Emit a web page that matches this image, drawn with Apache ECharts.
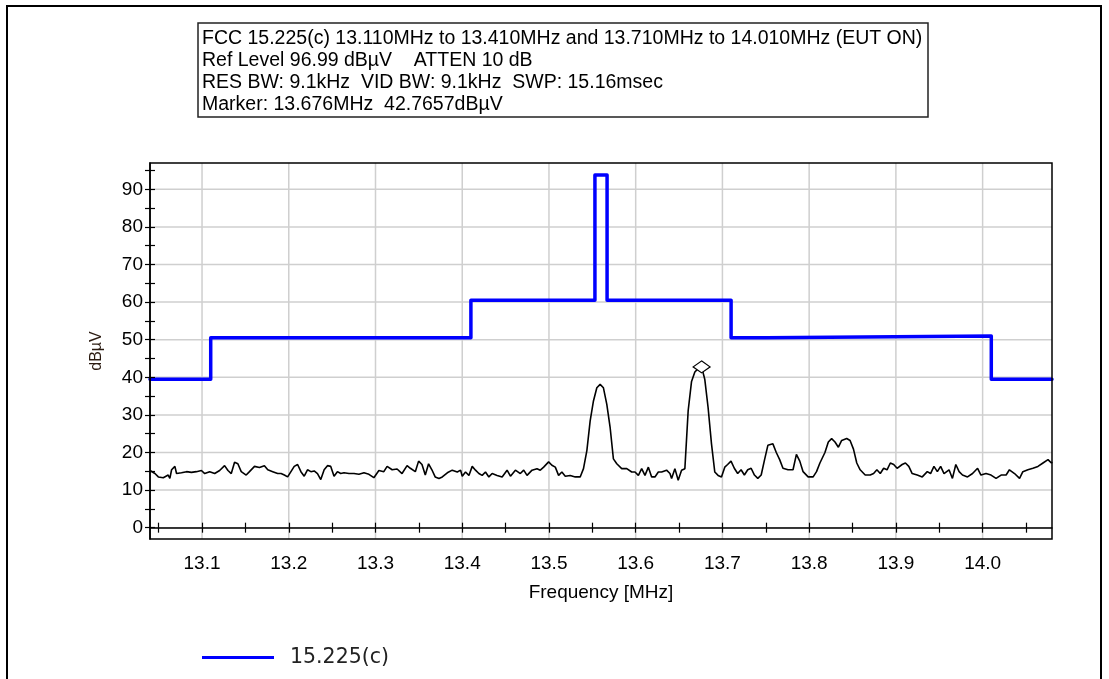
<!DOCTYPE html>
<html>
<head>
<meta charset="utf-8">
<script src="https://cdn.jsdelivr.net/npm/echarts@6/dist/echarts.min.js"></script>
<style>
  html, body { margin: 0; padding: 0; background: #fff; }
  #chart { width: 1109px; height: 679px; }
</style>
</head>
<body>
<div id="chart"></div>
<script>
// Analyzer settings block
const headerLines = [
  'FCC 15.225(c) 13.110MHz to 13.410MHz and 13.710MHz to 14.010MHz (EUT ON)',
  'Ref Level 96.99 dBµV    ATTEN 10 dB',
  'RES BW: 9.1kHz  VID BW: 9.1kHz  SWP: 15.16msec',
  'Marker: 13.676MHz  42.7657dBµV'
];

// Limit mask (step line)
const limitName = '15.225(c)';
const limitFreq  = [13.04, 13.11, 13.11, 13.41, 13.41, 13.553, 13.553, 13.567, 13.567, 13.71, 13.71, 13.75, 13.75, 14.01, 14.01, 14.08];
const limitLevel = [39.5, 39.5, 50.5, 50.5, 60.5, 60.5, 93.8, 93.8, 60.5, 60.5, 50.5, 50.5, 51.0, 51.0, 39.5, 39.5];

// Measured sweep (MHz, dBµV)
const traceFreq = [
  13.0400, 13.0457, 13.0496, 13.0553, 13.0610, 13.0629, 13.0649, 13.0687, 13.0706, 13.0763,
  13.0821, 13.0878, 13.0935, 13.0993, 13.1031, 13.1088, 13.1146, 13.1203, 13.1260, 13.1299,
  13.1337, 13.1375, 13.1413, 13.1452, 13.1509, 13.1547, 13.1605, 13.1662, 13.1719, 13.1758,
  13.1815, 13.1872, 13.1911, 13.1949, 13.1987, 13.2025, 13.2063, 13.2102, 13.2140, 13.2178,
  13.2216, 13.2255, 13.2293, 13.2331, 13.2369, 13.2408, 13.2446, 13.2484, 13.2522, 13.2561,
  13.2599, 13.2637, 13.2694, 13.2752, 13.2809, 13.2867, 13.2924, 13.2981, 13.3039, 13.3096,
  13.3134, 13.3192, 13.3249, 13.3306, 13.3364, 13.3402, 13.3459, 13.3497, 13.3536, 13.3574,
  13.3612, 13.3650, 13.3688,
  13.3732, 13.3770, 13.3828, 13.3885, 13.3943, 13.3981, 13.4000, 13.4038, 13.4077, 13.4115,
  13.4153, 13.4192, 13.4230, 13.4268, 13.4307, 13.4345, 13.4402, 13.4460, 13.4517, 13.4556,
  13.4613, 13.4670, 13.4709, 13.4747, 13.4805, 13.4862, 13.4900, 13.4939, 13.4996, 13.5034,
  13.5073, 13.5111, 13.5149, 13.5188, 13.5245, 13.5303, 13.5360, 13.5398, 13.5437, 13.5475,
  13.5513, 13.5552, 13.5590, 13.5628, 13.5667, 13.5705, 13.5743, 13.5782, 13.5839, 13.5897,
  13.5954, 13.5992, 13.6031, 13.6069, 13.6107, 13.6146, 13.6184, 13.6222, 13.6261, 13.6299,
  13.6356, 13.6395, 13.6414, 13.6452, 13.6490, 13.6529, 13.6567, 13.6605, 13.6644, 13.6682,
  13.6720, 13.6760, 13.6797, 13.6835, 13.6874, 13.6912, 13.6950, 13.6989, 13.7027,
  13.7060, 13.7099, 13.7137, 13.7176, 13.7215, 13.7253, 13.7292, 13.7331, 13.7369, 13.7408,
  13.7447, 13.7486, 13.7524, 13.7582, 13.7621, 13.7660, 13.7698, 13.7756, 13.7814, 13.7853,
  13.7892, 13.7930, 13.7988, 13.8046, 13.8085, 13.8124, 13.8182, 13.8221, 13.8259, 13.8298,
  13.8337, 13.8375, 13.8433, 13.8472, 13.8511, 13.8549, 13.8588, 13.8646, 13.8704, 13.8743,
  13.8781, 13.8820, 13.8859, 13.8898, 13.8936, 13.8975, 13.9014, 13.9072, 13.9110, 13.9149,
  13.9188, 13.9246, 13.9304, 13.9362, 13.9400, 13.9439, 13.9478, 13.9516, 13.9555, 13.9613,
  13.9652, 13.9691, 13.9729, 13.9768, 13.9826, 13.9884, 13.9942, 13.9981, 14.0039, 14.0097,
  14.0155, 14.0213, 14.0271, 14.0309, 14.0368, 14.0426, 14.0464, 14.0522, 14.0580, 14.0638,
  14.0696, 14.0754, 14.0793, 14.0800
];
const traceLevel = [
  15.2, 14.4, 13.5, 13.3, 14.0, 13.1, 15.4, 16.3, 14.4, 14.6,
  14.9, 14.7, 14.9, 15.2, 14.4, 14.9, 14.4, 15.2, 16.5, 15.2,
  14.4, 17.4, 17.0, 14.9, 14.0, 14.9, 16.3, 16.0, 16.5, 15.4,
  14.9, 14.4, 14.4, 14.0, 13.5, 14.9, 16.3, 16.8, 14.9, 13.7,
  15.4, 14.9, 15.1, 14.4, 12.8, 15.4, 16.5, 16.3, 13.7, 14.9,
  14.4, 14.6, 14.4, 14.4, 14.2, 14.6, 14.2, 13.3, 15.2, 14.9,
  16.3, 15.4, 15.6, 14.4, 16.5, 15.8, 14.9, 17.7, 16.8, 14.0,
  17.0, 15.4, 13.5,
  13.1, 13.5, 14.6, 15.3, 14.8, 15.3, 13.7, 14.8, 13.9, 16.3,
  15.3, 14.4, 13.9, 14.8, 13.5, 14.4, 13.9, 13.5, 15.3, 13.7,
  15.3, 14.4, 15.3, 13.9, 15.3, 15.7, 15.3, 16.1, 17.5, 16.6,
  16.1, 13.9, 14.8, 13.7, 13.9, 13.5, 13.5, 15.7, 20.5, 28.4,
  33.7, 37.2, 38.1, 37.2, 32.8, 26.7, 18.3, 17.0, 15.7, 15.7,
  14.8, 14.8, 13.9, 15.7, 13.9, 16.1, 13.5, 13.5, 14.8, 14.8,
  15.3, 14.4, 13.1, 15.7, 12.6, 15.3, 15.7, 31.1, 38.9, 41.4,
  42.3, 42.77, 39.4, 31.9, 22.3, 14.8, 13.9, 13.5, 16.1,
  16.8, 17.7, 15.8, 14.4, 15.4, 14.0, 15.4, 15.8, 14.0, 13.1,
  14.0, 18.1, 21.9, 22.3, 20.0, 18.1, 15.8, 15.4, 15.4, 19.5,
  17.7, 14.9, 13.5, 13.5, 14.9, 17.2, 20.0, 22.8, 23.7, 22.8,
  21.4, 23.2, 23.7, 23.2, 20.9, 17.2, 15.4, 14.0, 14.0, 14.4,
  15.4, 14.4, 15.8, 15.4, 17.2, 16.8, 15.8, 16.8, 17.2, 16.3,
  14.4, 14.0, 13.5, 14.9, 14.4, 16.3, 14.9, 16.3, 14.4, 15.4,
  13.1, 16.8, 14.9, 14.0, 13.5, 14.4, 15.8, 14.0, 14.4, 14.0,
  13.1, 14.0, 14.0, 15.4, 14.4, 13.1, 14.9, 15.4, 15.8, 16.3,
  17.2, 18.1, 17.2, 17.5
];

// Peak marker
const markerFreq = 13.676;
const markerLevel = 42.7657;

// Axis ticks and labels
const xTickValues = [13.05, 13.1, 13.15, 13.2, 13.25, 13.3, 13.35, 13.4, 13.45, 13.5, 13.55,
  13.6, 13.65, 13.7, 13.75, 13.8, 13.85, 13.9, 13.95, 14.0, 14.05];
const xLabelValues = [13.1, 13.2, 13.3, 13.4, 13.5, 13.6, 13.7, 13.8, 13.9, 14.0];
const yTickValues = [0, 5, 10, 15, 20, 25, 30, 35, 40, 45, 50, 55, 60, 65, 70, 75, 80, 85, 90, 95];
const yLabelValues = [0, 10, 20, 30, 40, 50, 60, 70, 80, 90];

const X_MIN = 13.04, X_MAX = 14.08;
const Y_MIN = -3.01, Y_MAX = 96.99;

const LABEL_FONT = '"Liberation Sans", Arial, sans-serif';

const chart = echarts.init(document.getElementById('chart'), null, { renderer: 'canvas' });

function gridLineV(params, api) {
  const v = api.value(0);
  const p1 = api.coord([v, Y_MIN]);
  const p2 = api.coord([v, Y_MAX]);
  return { type: 'line', shape: { x1: p1[0], y1: p1[1], x2: p2[0], y2: p2[1] },
           style: { stroke: '#cfcfcf', lineWidth: 1.5 } };
}
function gridLineH(params, api) {
  const v = api.value(1);
  const p1 = api.coord([X_MIN, v]);
  const p2 = api.coord([X_MAX, v]);
  return { type: 'line', shape: { x1: p1[0], y1: p1[1], x2: p2[0], y2: p2[1] },
           style: { stroke: '#cfcfcf', lineWidth: 1.5 } };
}

const xBase = { type: 'value', min: X_MIN, max: X_MAX, position: 'bottom', z: 5, splitLine: { show: false } };
const yBase = { type: 'value', min: Y_MIN, max: Y_MAX, position: 'left', z: 5, splitLine: { show: false } };

const option = {
  animation: false,
  backgroundColor: '#fff',
  grid: { left: 150, top: 163, width: 902, height: 376, show: true, borderColor: '#000', borderWidth: 1.5,
          backgroundColor: 'transparent', z: 6, outerBoundsMode: 'none', containLabel: false },
  legend: {
    data: [limitName], left: 197, top: 642, icon: 'rect', itemWidth: 72, itemHeight: 3,
    selectedMode: false,
    textStyle: { fontFamily: '"DejaVu Sans", Verdana, sans-serif', fontSize: 20.5, color: '#222', padding: [0, 0, 0, 11] }
  },
  xAxis: [
    Object.assign({}, xBase, {
      axisLine: { show: true, onZero: true, lineStyle: { color: '#000', width: 1.5 } },
      axisTick: { show: true, inside: false, length: 5, customValues: xTickValues, lineStyle: { color: '#000', width: 1.2 } },
      axisLabel: { customValues: xLabelValues, formatter: v => v.toFixed(1), margin: 15, color: '#000',
                   fontFamily: LABEL_FONT, fontSize: 19 },
      name: 'Frequency [MHz]', nameLocation: 'middle', nameGap: 44,
      nameTextStyle: { fontFamily: LABEL_FONT, fontSize: 19, color: '#000' }
    }),
    Object.assign({}, xBase, {
      axisLine: { show: false, onZero: true },
      axisTick: { show: true, inside: true, length: 5, customValues: xTickValues, lineStyle: { color: '#000', width: 1.2 } },
      axisLabel: { show: false }
    })
  ],
  yAxis: [
    Object.assign({}, yBase, {
      axisLine: { show: true, onZero: false, lineStyle: { color: '#000', width: 1.5 } },
      axisTick: { show: true, inside: false, length: 5, customValues: yTickValues, lineStyle: { color: '#000', width: 1.2 } },
      axisLabel: { customValues: yLabelValues, formatter: v => String(v), margin: 7, color: '#000',
                   fontFamily: LABEL_FONT, fontSize: 19 },
      name: 'dBµV', nameLocation: 'middle', nameGap: 45, nameRotate: 90,
      nameTextStyle: { fontFamily: LABEL_FONT, fontSize: 16, color: '#2a1a10' }
    }),
    Object.assign({}, yBase, {
      axisLine: { show: false, onZero: false },
      axisTick: { show: true, inside: true, length: 5, customValues: yTickValues, lineStyle: { color: '#000', width: 1.2 } },
      axisLabel: { show: false }
    })
  ],
  graphic: [
    { type: 'rect', silent: true, z: 0,
      shape: { x: 7, y: 6, width: 1094, height: 700 },
      style: { fill: 'none', stroke: '#000', lineWidth: 2 } },
    { type: 'rect', silent: true, z: 10,
      shape: { x: 198, y: 23, width: 730, height: 94 },
      style: { fill: '#fff', stroke: '#222', lineWidth: 1.5 } },
    { type: 'text', silent: true, z: 11, x: 202, y: 27.5,
      style: { text: headerLines.join('\n'), fontFamily: LABEL_FONT, fontSize: 19.5, lineHeight: 22,
               fill: '#000', verticalAlign: 'top', align: 'left' } }
  ],
  series: [
    { type: 'custom', name: 'gridX', silent: true, z: 1, renderItem: gridLineV,
      data: xLabelValues.map(v => [v, 0]) },
    { type: 'custom', name: 'gridY', silent: true, z: 1, renderItem: gridLineH,
      data: yLabelValues.map(v => [X_MIN, v]) },
    { type: 'line', name: 'trace', silent: true, z: 3, showSymbol: false, symbol: 'none',
      lineStyle: { color: '#000', width: 1.6 }, itemStyle: { color: '#000' },
      data: traceFreq.map((f, i) => [f, traceLevel[i]]) },
    { type: 'line', name: limitName, silent: true, z: 4, showSymbol: false, symbol: 'none',
      lineStyle: { color: '#0000ff', width: 3.5, join: 'round', cap: 'round' }, itemStyle: { color: '#0000ff' },
      data: limitFreq.map((f, i) => [f, limitLevel[i]]) },
    { type: 'scatter', name: 'marker', silent: true, z: 5, symbol: 'diamond', symbolSize: [17, 12],
      itemStyle: { color: '#fff', borderColor: '#000', borderWidth: 1.2, opacity: 1 },
      data: [[markerFreq, markerLevel]] }
  ]
};

chart.setOption(option);
</script>
</body>
</html>
